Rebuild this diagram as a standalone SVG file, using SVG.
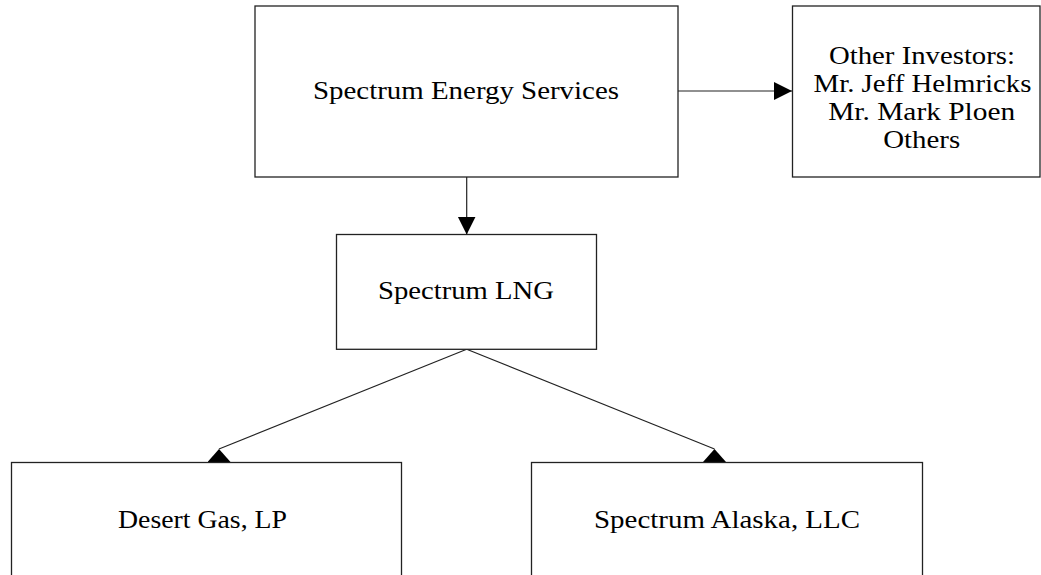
<svg xmlns="http://www.w3.org/2000/svg" width="1041" height="575" viewBox="0 0 1041 575">
<defs>
<style>
.box{fill:#fff;stroke:#222;stroke-width:1.3}
.lbl{font-family:"Liberation Serif","Times New Roman",serif;font-size:25px;fill:#000;text-anchor:middle}
.conn{stroke:#222;stroke-width:1.2;fill:none}
</style>
<marker id="arr" markerUnits="userSpaceOnUse" markerWidth="20" markerHeight="20" refX="18" refY="9" orient="auto">
<path d="M0,0 L18,9 L0,18 z" fill="#000"/>
</marker>
<marker id="up" markerUnits="userSpaceOnUse" markerWidth="24" markerHeight="24" refX="13" refY="11.5" orient="270">
<path d="M0,0 L13,11.5 L0,23 z" fill="#000"/>
</marker>
</defs>
<rect width="1041" height="575" fill="#fff"/>
<g id="connectors">
<line class="conn" x1="678" y1="91" x2="792" y2="91" marker-end="url(#arr)"/>
<line class="conn" x1="466.7" y1="177" x2="466.7" y2="234.5" marker-end="url(#arr)"/>
<line class="conn" x1="466.7" y1="349.3" x2="219" y2="449" marker-end="url(#up)"/>
<line class="conn" x1="466.7" y1="349.3" x2="714.5" y2="449" marker-end="url(#up)"/>
</g>
<g id="node-ses">
<rect class="box" x="255" y="6" width="423" height="171"/>
<text class="lbl" x="466" y="99" textLength="306" lengthAdjust="spacingAndGlyphs">Spectrum Energy Services</text>
</g>
<g id="node-investors">
<rect class="box" x="792.5" y="6" width="247.5" height="171"/>
<text class="lbl" x="922" y="63.5" textLength="186" lengthAdjust="spacingAndGlyphs">Other Investors:</text>
<text class="lbl" x="922.5" y="91.5" textLength="218" lengthAdjust="spacingAndGlyphs">Mr. Jeff Helmricks</text>
<text class="lbl" x="921.7" y="119.5" textLength="187" lengthAdjust="spacingAndGlyphs">Mr. Mark Ploen</text>
<text class="lbl" x="921.7" y="147.5" textLength="77" lengthAdjust="spacingAndGlyphs">Others</text>
</g>
<g id="node-lng">
<rect class="box" x="336.5" y="234.5" width="260" height="114.8"/>
<text class="lbl" x="466" y="299" textLength="176" lengthAdjust="spacingAndGlyphs">Spectrum LNG</text>
</g>
<g id="node-desert">
<rect class="box" x="11.5" y="462.5" width="390" height="130"/>
<text class="lbl" x="202.5" y="528" textLength="169" lengthAdjust="spacingAndGlyphs">Desert Gas, LP</text>
</g>
<g id="node-alaska">
<rect class="box" x="531.5" y="462.5" width="391" height="130"/>
<text class="lbl" x="727" y="528" textLength="266" lengthAdjust="spacingAndGlyphs">Spectrum Alaska, LLC</text>
</g>
</svg>
